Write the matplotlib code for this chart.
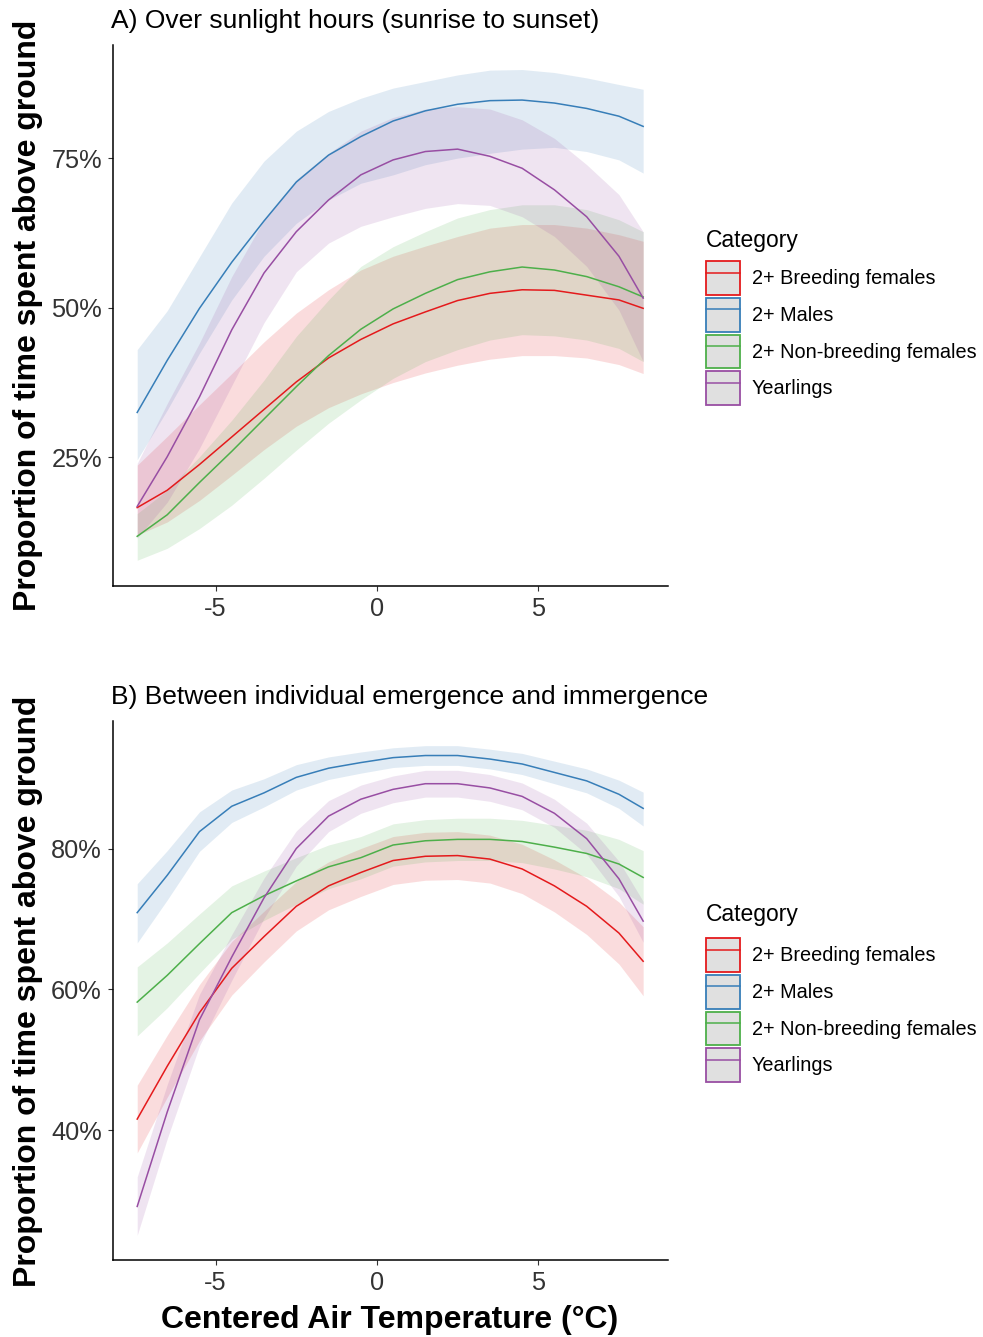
import numpy as np
import matplotlib
matplotlib.use("Agg")
import matplotlib.pyplot as plt
from matplotlib.patches import Patch
from matplotlib.lines import Line2D
from matplotlib.ticker import FuncFormatter

plt.rcParams['font.family'] = ['Liberation Sans', 'DejaVu Sans']

# centered air temperature (deg C)
temp = [-7.43, -6.5, -5.5, -4.5, -3.5, -2.5, -1.5, -0.5, 0.5, 1.5, 2.5, 3.5, 4.5, 5.5, 6.5, 7.5, 8.25]

categories = ["2+ Breeding females", "2+ Males", "2+ Non-breeding females", "Yearlings"]

# A) sunlight hours, % of time above ground (fit, upper CI, lower CI)
a_breed = [16.6, 19.5, 23.8, 28.4, 33.0, 37.6, 41.6, 44.7, 47.3, 49.3, 51.2, 52.4, 53.0, 52.9, 52.1, 51.3, 49.9]
a_breed_hi = [23.7, 28.5, 33.8, 39.0, 44.3, 49.1, 53.0, 56.3, 58.6, 60.3, 61.9, 63.3, 63.9, 63.9, 63.3, 62.2, 61.1]
a_breed_lo = [12.0, 14.2, 17.8, 22.0, 26.3, 30.2, 33.3, 35.6, 37.5, 39.1, 40.4, 41.4, 42.0, 42.0, 41.6, 40.5, 39.0]
a_males = [32.5, 41.2, 49.9, 57.6, 64.5, 71.0, 75.5, 78.6, 81.2, 82.9, 84.0, 84.6, 84.7, 84.2, 83.3, 82.0, 80.3]
a_males_hi = [43.0, 49.5, 58.5, 67.5, 74.5, 79.5, 82.8, 85.0, 86.7, 87.8, 88.9, 89.7, 89.8, 89.3, 88.4, 87.3, 86.5]
a_males_lo = [24.6, 32.9, 42.4, 51.3, 58.6, 64.1, 68.0, 70.8, 72.2, 73.9, 75.0, 75.8, 76.5, 76.8, 76.1, 74.7, 72.5]
a_nonbreed = [11.8, 15.4, 20.8, 26.0, 31.4, 36.8, 42.0, 46.4, 49.8, 52.4, 54.7, 56.0, 56.8, 56.3, 55.2, 53.5, 51.8]
a_nonbreed_hi = [15.6, 19.5, 25.1, 31.2, 37.9, 45.2, 51.3, 56.9, 60.2, 62.7, 65.0, 66.4, 67.2, 67.2, 66.4, 64.7, 62.7]
a_nonbreed_lo = [7.8, 9.8, 13.1, 17.0, 21.5, 26.2, 30.7, 34.6, 38.2, 41.0, 43.0, 44.6, 45.5, 45.3, 44.6, 43.2, 41.0]
a_year = [16.8, 25.1, 35.1, 46.3, 55.8, 62.7, 68.0, 72.2, 74.7, 76.1, 76.5, 75.3, 73.3, 69.7, 65.2, 58.6, 51.6]
a_year_hi = [24.0, 34.0, 44.1, 55.2, 64.7, 71.4, 75.8, 79.5, 81.8, 83.2, 83.6, 83.2, 81.4, 78.3, 73.9, 68.9, 62.7]
a_year_lo = [11.5, 17.5, 26.5, 37.0, 47.5, 56.0, 60.8, 63.6, 65.2, 66.6, 67.4, 67.1, 65.2, 61.9, 56.9, 49.6, 41.0]

# B) emergence to immergence
b_breed = [41.6, 49.1, 56.7, 63.0, 67.5, 71.8, 74.7, 76.6, 78.3, 78.9, 79.0, 78.5, 77.1, 74.7, 71.8, 68.0, 64.0]
b_breed_hi = [46.4, 53.5, 60.7, 66.8, 71.1, 75.3, 78.1, 80.0, 81.7, 82.3, 82.4, 81.9, 80.6, 78.4, 75.8, 72.4, 68.9]
b_breed_lo = [36.8, 44.7, 52.7, 59.2, 63.9, 68.3, 71.3, 73.2, 74.9, 75.5, 75.6, 75.1, 73.6, 71.0, 67.8, 63.6, 59.1]
b_males = [70.9, 76.2, 82.4, 86.0, 87.9, 90.1, 91.4, 92.2, 92.9, 93.2, 93.2, 92.7, 92.0, 90.8, 89.6, 87.7, 85.7]
b_males_hi = [75.0, 79.7, 85.2, 88.3, 89.9, 91.9, 93.0, 93.7, 94.3, 94.6, 94.6, 94.1, 93.5, 92.4, 91.3, 89.7, 88.0]
b_males_lo = [66.6, 72.7, 79.6, 83.7, 85.9, 88.3, 89.8, 90.7, 91.5, 91.8, 91.8, 91.3, 90.5, 89.2, 87.9, 85.7, 83.2]
b_nonbreed = [58.2, 62.0, 66.5, 70.9, 73.3, 75.4, 77.4, 78.7, 80.5, 81.1, 81.3, 81.3, 81.0, 80.2, 79.3, 77.8, 75.9]
b_nonbreed_hi = [63.2, 66.6, 70.7, 74.7, 76.8, 78.7, 80.5, 81.7, 83.5, 84.1, 84.3, 84.3, 84.0, 83.3, 82.6, 81.3, 79.7]
b_nonbreed_lo = [53.4, 57.4, 62.3, 67.1, 69.8, 72.1, 74.3, 75.7, 77.5, 78.1, 78.3, 78.3, 78.0, 77.1, 76.0, 74.3, 72.1]
b_year = [29.2, 42.6, 55.7, 64.6, 73.0, 80.0, 84.6, 87.0, 88.4, 89.2, 89.2, 88.6, 87.4, 85.0, 81.4, 75.7, 69.7]
b_year_hi = [33.4, 46.5, 59.3, 67.8, 75.8, 82.5, 86.8, 89.0, 90.3, 91.1, 91.1, 90.5, 89.3, 87.0, 83.6, 78.2, 72.5]
b_year_lo = [25.1, 38.8, 52.0, 61.3, 70.1, 77.5, 82.4, 85.0, 86.5, 87.3, 87.3, 86.7, 85.5, 83.0, 79.2, 73.2, 66.7]

colors = ['#E41A1C', '#377EB8', '#4DAF4A', '#984EA3']

panel_a = [(a_breed, a_breed_lo, a_breed_hi), (a_males, a_males_lo, a_males_hi),
           (a_nonbreed, a_nonbreed_lo, a_nonbreed_hi), (a_year, a_year_lo, a_year_hi)]
panel_b = [(b_breed, b_breed_lo, b_breed_hi), (b_males, b_males_lo, b_males_hi),
           (b_nonbreed, b_nonbreed_lo, b_nonbreed_hi), (b_year, b_year_lo, b_year_hi)]

W, H = 983, 1337
fig = plt.figure(figsize=(W / 100, H / 100), dpi=100)


def px_axes(left, top, right, bottom):
    return fig.add_axes([left / W, 1 - bottom / H, (right - left) / W, (bottom - top) / H])


def draw_panel(ax, series, ylim, yticks):
    x = np.array(temp)
    for (fit, lo, hi), c in zip(series, colors):
        ax.fill_between(x, lo, hi, color=c, alpha=0.15, linewidth=0)
    for (fit, lo, hi), c in zip(series, colors):
        ax.plot(x, fit, color=c, linewidth=1.1)
    ax.set_xlim(-8.18, 9.02)
    ax.set_ylim(*ylim)
    ax.set_xticks([-5, 0, 5])
    ax.set_xticklabels(['-5', '0', '5'])
    ax.set_yticks(yticks)
    ax.yaxis.set_major_formatter(FuncFormatter(lambda v, p: f"{v:.0f}%"))
    for s in ['top', 'right']:
        ax.spines[s].set_visible(False)
    for s in ['left', 'bottom']:
        ax.spines[s].set_linewidth(1.1)
        ax.spines[s].set_color('black')
    ax.tick_params(axis='both', length=3.5, width=0.8, color='#333333',
                   labelsize=18.3, labelcolor='#333333', pad=4.5)
    ax.patch.set_alpha(0)


def add_legend(title_px, top_px):
    fig.text(706 / W, 1 - title_px / H, 'Category', fontsize=16.5,
             ha='left', va='center')
    handles = [(Patch(facecolor='#e0e0e0', edgecolor=c, linewidth=1.3),
                Line2D([], [], color=c, linewidth=1.1)) for c in colors]
    leg = fig.legend(handles, categories, loc='upper left',
                     bbox_to_anchor=(706 / W, 1 - top_px / H), frameon=False,
                     fontsize=14.3, handlelength=1.7, handleheight=2.24,
                     labelspacing=0.15, handletextpad=0.6,
                     borderpad=0, borderaxespad=0)
    return leg


ax_a = px_axes(113, 45, 668, 586)
draw_panel(ax_a, panel_a, (3.5, 93.9), [25, 50, 75])
ax_b = px_axes(113, 721, 668, 1260)
draw_panel(ax_b, panel_b, (21.6, 98.1), [40, 60, 80])

fig.text(111 / W, 1 - 21 / H, "A) Over sunlight hours (sunrise to sunset)",
         fontsize=19, ha='left', va='center', color='black')
fig.text(111 / W, 1 - 697 / H, "B) Between individual emergence and immergence",
         fontsize=19, ha='left', va='center', color='black')

for yc in [315, 991]:
    fig.text(28 / W, 1 - yc / H, "Proportion of time spent above ground",
             fontsize=23, fontweight='bold', rotation=90, ha='center', va='center')
fig.text(390 / W, 1 - 1320 / H, "Centered Air Temperature (\u00b0C)",
         fontsize=23, fontweight='bold', ha='center', va='center')

add_legend(240, 261)
add_legend(915, 938)

fig.savefig('out.png', dpi=100)
